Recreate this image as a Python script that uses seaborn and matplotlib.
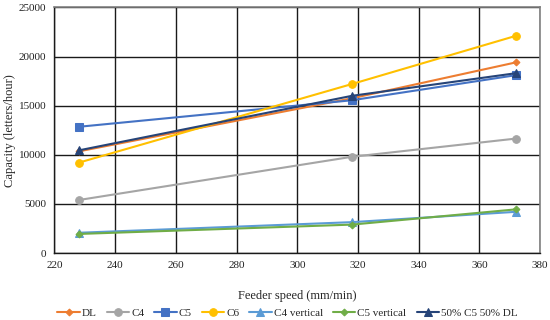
import matplotlib
matplotlib.use("Agg")
import matplotlib.pyplot as plt
import seaborn as sns
import pandas as pd

feeder_speed = [228, 318, 372]
series_names = ["DL", "C4", "C5", "C6", "C4 vertical", "C5 vertical", "50% C5 50% DL"]
dl = [10350, 15750, 19400]
c4 = [5400, 9800, 11650]
c5 = [12850, 15550, 18100]
c6 = [9200, 17200, 22100]
c4_vertical = [2070, 3150, 4200]
c5_vertical = [1950, 2900, 4450]
c5_dl = [10450, 16000, 18300]
values = [dl, c4, c5, c6, c4_vertical, c5_vertical, c5_dl]

colors = ["#ED7D31", "#A5A5A5", "#4472C4", "#FFC000", "#5B9BD5", "#70AD47", "#264478"]
markers = ["D", "o", "s", "o", "^", "D", "^"]
msizes = [3.5, 5.5, 5.5, 5.5, 5.5, 3.5, 5.5]

rows = []
for name, vals in zip(series_names, values):
    for x, v in zip(feeder_speed, vals):
        rows.append({"speed": x, "capacity": v, "series": name})
df = pd.DataFrame(rows)

sns.set_style("white")
plt.rcParams["font.family"] = ["Liberation Serif", "DejaVu Serif"]

fig = plt.figure(figsize=(5.5, 3.2), dpi=100)
ax = fig.add_axes([0.099, 0.209, 0.883, 0.768])

for name, col, mk, ms in zip(series_names, colors, markers, msizes):
    sub = df[df["series"] == name]
    sns.lineplot(data=sub, x="speed", y="capacity", ax=ax, color=col, marker=mk,
                 markersize=ms, markeredgecolor=col, linewidth=1.5, label=name)

ax.set_xlim(220, 380)
ax.set_ylim(0, 25000)
ax.set_xticks(range(220, 381, 20))
ax.set_yticks(range(0, 25001, 5000))
ax.grid(True, color="#1a1a1a", linewidth=1.0)
ax.set_axisbelow(True)
for s in ["top", "right"]:
    ax.spines[s].set_color("#808080")
    ax.spines[s].set_linewidth(1.2)
for s in ["left", "bottom"]:
    ax.spines[s].set_color("#1a1a1a")
    ax.spines[s].set_linewidth(1.0)
ax.tick_params(axis="both", labelsize=8, length=0, pad=6, colors="#222222")
ax.set_xlabel("Feeder speed (mm/min)", fontsize=9, labelpad=14)
ax.set_ylabel("Capacity (letters/hour)", fontsize=9, labelpad=2)

ax.legend(loc="upper center", bbox_to_anchor=(0.48, -0.205), ncol=7, frameon=False,
          fontsize=8, handlelength=2.0, columnspacing=0.9, handletextpad=0.2,
          borderaxespad=0)

fig.savefig("out.png", dpi=100)
